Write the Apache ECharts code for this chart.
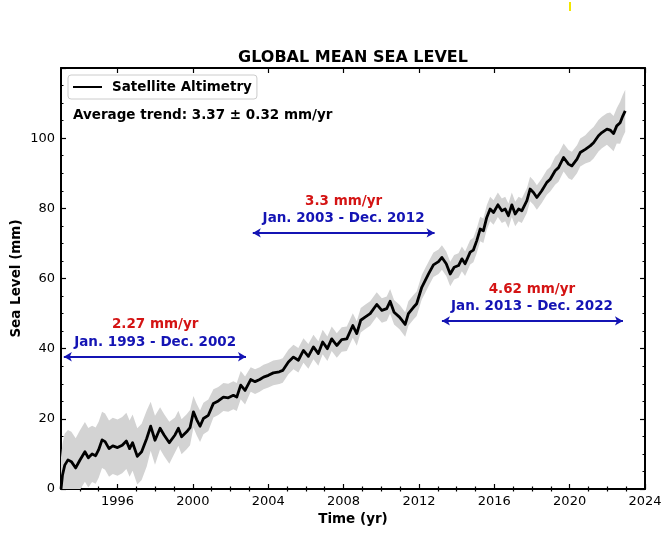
<!DOCTYPE html>
<html>
<head>
<meta charset="utf-8">
<script src="https://cdn.jsdelivr.net/npm/echarts@6/dist/echarts.min.js"></script>
<style>
html,body{margin:0;padding:0;background:#fff;}
#chart{width:670px;height:542px;}
</style>
</head>
<body>
<div id="chart"></div>
<script>
// ---- data ----
const years = [
  1993.00, 1993.08, 1993.20, 1993.37, 1993.55, 1993.78,
  1994.00, 1994.27, 1994.45, 1994.65, 1994.84,
  1995.00, 1995.18, 1995.34, 1995.55, 1995.75,
  1996.00, 1996.25, 1996.47, 1996.64, 1996.80,
  1997.05, 1997.28, 1997.55, 1997.76, 1997.99,
  1998.26, 1998.47, 1998.75,
  1999.05, 1999.23, 1999.40, 1999.67, 1999.85,
  2000.03, 2000.20, 2000.38, 2000.56, 2000.82,
  2001.09, 2001.35, 2001.62, 2001.88,
  2002.15, 2002.33, 2002.54, 2002.77,
  2003.07, 2003.30, 2003.55, 2003.75,
  2004.01, 2004.27, 2004.59, 2004.77,
  2005.07, 2005.34, 2005.60, 2005.87,
  2006.13, 2006.40, 2006.66, 2006.89,
  2007.14, 2007.37, 2007.64, 2007.90,
  2008.17, 2008.49, 2008.70, 2008.91,
  2009.14, 2009.41, 2009.76,
  2010.03, 2010.29, 2010.47, 2010.68, 2010.97,
  2011.27, 2011.44, 2011.71, 2011.88,
  2012.15, 2012.33, 2012.51, 2012.77,
  2013.04, 2013.22, 2013.45, 2013.66, 2013.87,
  2014.10, 2014.28, 2014.45, 2014.72, 2014.89,
  2015.07, 2015.25, 2015.42, 2015.60, 2015.78, 2015.96,
  2016.19, 2016.40, 2016.58, 2016.75, 2016.93,
  2017.11, 2017.29, 2017.46, 2017.73, 2017.90,
  2018.08, 2018.26, 2018.52, 2018.79, 2018.97,
  2019.23, 2019.41, 2019.68, 2019.94,
  2020.12, 2020.39, 2020.56, 2020.83,
  2021.09, 2021.27, 2021.53, 2021.71, 2021.98,
  2022.15, 2022.33, 2022.50, 2022.68, 2022.82, 2022.95
];
const seaLevel = [
  0, 4, 6.8, 8.3, 7.8, 6.0,
  8.2, 10.6, 8.9, 10.0, 9.5,
  11.2, 14.0, 13.5, 11.5, 12.3,
  11.8, 12.5, 13.7, 11.5, 13.2,
  9.3, 10.6, 14.4, 17.9, 13.9,
  17.3, 15.4, 13.2,
  15.4, 17.3, 14.9, 16.3, 17.5,
  22.0, 19.8, 17.9, 20.1, 21.0,
  24.4, 25.1, 26.2, 26.0,
  26.7, 26.2, 29.6, 28.1,
  31.2, 30.6, 31.2, 31.9,
  32.4, 33.1, 33.4, 33.8,
  36.2, 37.6, 36.7, 39.5,
  37.8, 40.5, 38.6, 41.9,
  40.0, 42.8, 40.9, 42.6,
  42.8, 46.6, 44.3, 48.1,
  49.0, 50.0, 52.6,
  50.9, 51.4, 53.5, 50.4, 49.0,
  46.9, 50.0, 51.8, 52.8,
  57.5, 59.4, 61.3, 63.9,
  64.8, 66.0, 64.2, 61.3, 63.2,
  63.7, 65.6, 64.2, 67.5, 68.1,
  70.8, 74.1, 73.6, 77.4, 79.8, 78.8,
  81.0, 79.3, 79.8, 77.9, 81.0,
  78.4, 79.8, 79.3, 82.2, 85.5,
  84.5, 83.1, 85.0, 87.4, 88.3,
  90.7, 91.6, 94.5, 92.6,
  92.1, 94.0, 95.9, 96.8,
  97.8, 98.7, 100.7, 101.6, 102.6,
  102.3, 101.3, 103.5, 104.4, 106.3, 107.8
];
const uncertainty = [
  9, 9, 9, 8.5, 8.5, 8.5,
  8.5, 8.5, 8.5, 8, 8,
  8, 8, 8, 8, 8,
  8, 8, 8, 8, 8,
  8, 8, 8, 7, 7,
  6, 6, 6,
  5, 5, 5, 5, 5,
  4.5, 4.5, 4.5, 4.5, 4.5,
  4, 4, 4, 4,
  4, 4, 4, 4,
  3.5, 3.5, 3.5, 3.5,
  3.5, 3.5, 3.5, 3.5,
  3.5, 3.5, 3.5, 3.5,
  3.5, 3.5, 3.5, 3.5,
  3.5, 3.5, 3.5, 3.5,
  3.5, 3.5, 3.5, 3.5,
  3.5, 3.5, 3.5,
  3.5, 3.5, 3.5, 3.5, 3.5,
  3.5, 3.5, 3.5, 3.5,
  3.5, 3.5, 3.5, 3.5,
  3.5, 3.5, 3.5, 3.5, 3.5,
  3.5, 3.5, 3.5, 3.5, 3.5,
  3.5, 3.5, 3.5, 3.5, 3.5, 3.5,
  3.5, 3.5, 3.5, 3.5, 3.5,
  3.5, 3.5, 3.5, 3.5, 3.5,
  3.5, 3.5, 3.5, 3.5, 3.5,
  4, 4, 4, 4,
  4, 4, 4, 4,
  4.5, 4.5, 4.5, 4.5, 4.5,
  5, 5, 5, 6, 6, 6
];
const majorYears = [1996, 2000, 2004, 2008, 2012, 2016, 2020, 2024];
const minorYears = [1994, 1995, 1997, 1998, 1999, 2001, 2002, 2003, 2005, 2006, 2007,
  2009, 2010, 2011, 2013, 2014, 2015, 2017, 2018, 2019, 2021, 2022, 2023];

// annotations
const rateLabels = ['2.27 mm/yr', '3.3 mm/yr', '4.62 mm/yr'];
const periodLabels = ['Jan. 1993 - Dec. 2002', 'Jan. 2003 - Dec. 2012', 'Jan. 2013 - Dec. 2022'];
const periodMid = [1998, 2008, 2018];
const rateLabelY = [46.8, 82.0, 57.0];
const periodLabelY = [41.9, 77.2, 52.0];
const arrowStart = [1993.15, 2003.18, 2013.22];
const arrowEnd = [2002.82, 2012.83, 2022.83];
const arrowY = [37.7, 73.0, 47.9];

const FONT = 'DejaVu Sans';
const RED = '#d41414';
const BLUE = '#1414b4';

const chart = echarts.init(document.getElementById('chart'), null, {renderer: 'canvas'});

const lineData = years.map((y, i) => [y, seaLevel[i]]);

const tickLabel = {fontFamily: FONT, fontSize: 13, color: '#000'};
const axisLine = {show: true, onZero: false, lineStyle: {color: '#000', width: 2}};

function xAx(position, values, len, showLine, showLabel, extra) {
  return Object.assign({
    type: 'value', min: 1993, max: 2024, position: position,
    axisLine: showLine ? axisLine : {show: false},
    axisTick: {show: true, inside: true, length: len, customValues: values, lineStyle: {color: '#000', width: 1.2}},
    axisLabel: showLabel ? Object.assign({customValues: values, margin: 6, formatter: v => String(v)}, tickLabel) : {show: false},
    splitLine: {show: false}
  }, extra || {});
}

const option = {
  animation: false,
  backgroundColor: '#fff',
  title: {
    text: 'GLOBAL MEAN SEA LEVEL',
    left: 353, top: 50, padding: 0, textAlign: 'center',
    textStyle: {fontFamily: FONT, fontWeight: 'bold', fontSize: 16, color: '#000'}
  },
  grid: {left: 61, right: 25, top: 68, bottom: 53, containLabel: false, outerBoundsMode: 'none'},
  legend: {
    data: ['Satellite Altimetry'],
    left: 68, top: 75,
    padding: [5, 5, 5, 4],
    itemWidth: 29, itemHeight: 14,
    borderColor: '#cccccc', borderWidth: 1, borderRadius: 3,
    backgroundColor: '#fff',
    itemStyle: {color: 'rgba(0,0,0,0)', borderWidth: 0, opacity: 0},
    textStyle: {fontFamily: FONT, fontWeight: 'bold', fontSize: 13.5, color: '#000', padding: [0, 0, 0, 5]}
  },
  xAxis: [
    xAx('bottom', majorYears, 5, true, true, {
      name: 'Time (yr)', nameLocation: 'middle', nameGap: 23, nameMoveOverlap: false,
      nameTextStyle: {fontFamily: FONT, fontWeight: 'bold', fontSize: 13.5, color: '#000'}
    }),
    xAx('bottom', minorYears, 2.5, false, false),
    xAx('top', majorYears, 5, true, false),
    xAx('top', minorYears, 2.5, false, false)
  ],
  yAxis: [
    {
      type: 'value', min: 0, max: 120, interval: 20, position: 'left',
      axisLine: axisLine,
      axisTick: {show: true, inside: true, length: 5, lineStyle: {color: '#000', width: 1.2}},
      minorTick: {show: true, splitNumber: 4, length: 2.5, lineStyle: {color: '#000', width: 1}},
      axisLabel: Object.assign({showMaxLabel: false, margin: 6}, tickLabel),
      splitLine: {show: false},
      name: 'Sea Level (mm)', nameLocation: 'middle', nameGap: 38, nameMoveOverlap: false,
      nameTextStyle: {fontFamily: FONT, fontWeight: 'bold', fontSize: 13.5, color: '#000'}
    },
    {
      type: 'value', min: 0, max: 120, interval: 20, position: 'right',
      axisLine: axisLine,
      axisTick: {show: true, inside: true, length: 5, lineStyle: {color: '#000', width: 1.2}},
      minorTick: {show: true, splitNumber: 4, length: 2.5, lineStyle: {color: '#000', width: 1}},
      axisLabel: {show: false},
      splitLine: {show: false}
    }
  ],
  graphic: [
    {
      type: 'text', left: 73, top: 108, z: 100,
      style: {text: 'Average trend: 3.37 \u00b1 0.32 mm/yr', fontFamily: FONT, fontWeight: 'bold', fontSize: 13.5, fill: '#000'}
    },
    {type: 'rect', shape: {x: 569, y: 2, width: 2, height: 9}, style: {fill: '#f2e600'}}
  ],
  series: [
    {
      name: 'band',
      type: 'custom',
      xAxisIndex: 0, yAxisIndex: 0,
      data: [[years[0], seaLevel[0]]],
      z: 1,
      silent: true,
      renderItem: function (params, api) {
        const pts = [];
        for (let i = 0; i < years.length; i++) pts.push(api.coord([years[i], seaLevel[i] + uncertainty[i]]));
        for (let i = years.length - 1; i >= 0; i--) pts.push(api.coord([years[i], seaLevel[i] - uncertainty[i]]));
        const cs = params.coordSys;
        return {
          type: 'polygon',
          shape: {points: pts},
          style: {fill: '#d3d3d3', stroke: null},
          clipPath: {type: 'rect', shape: {x: cs.x, y: cs.y, width: cs.width, height: cs.height}}
        };
      }
    },
    {
      name: 'Satellite Altimetry',
      type: 'line',
      xAxisIndex: 0, yAxisIndex: 0,
      data: lineData,
      symbol: 'none',
      z: 3,
      lineStyle: {color: '#000', width: 2.8, join: 'round'},
      itemStyle: {color: '#000'},
      markLine: {
        silent: true,
        symbol: ['arrow', 'arrow'],
        symbolSize: [7, 8],
        label: {show: false},
        lineStyle: {color: BLUE, width: 2, type: 'solid', opacity: 1},
        itemStyle: {color: BLUE},
        data: arrowStart.map((s, i) => [{coord: [s, arrowY[i]]}, {coord: [arrowEnd[i], arrowY[i]]}])
      }
    },
    {
      name: 'rates',
      type: 'scatter',
      xAxisIndex: 0, yAxisIndex: 0,
      symbolSize: 0,
      silent: true,
      z: 5,
      itemStyle: {opacity: 1},
      data: periodMid.map((m, i) => ({value: [m, rateLabelY[i]], label: {formatter: rateLabels[i], color: RED}}))
        .concat(periodMid.map((m, i) => ({value: [m, periodLabelY[i]], label: {formatter: periodLabels[i], color: BLUE}}))),
      label: {show: true, position: 'inside', fontFamily: FONT, fontWeight: 'bold', fontSize: 13.5, opacity: 1}
    }
  ]
};

chart.setOption(option);
</script>
</body>
</html>
